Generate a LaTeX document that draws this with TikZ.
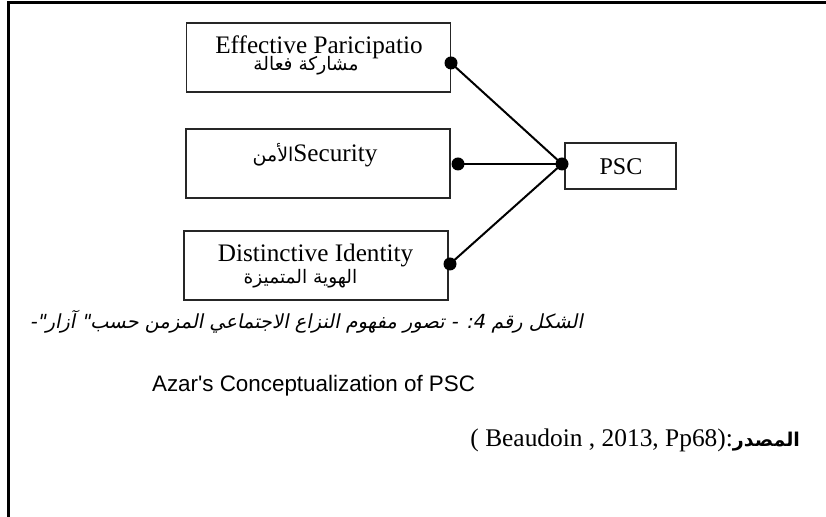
\documentclass[tikz,border=0pt]{standalone}
\usepackage{fontspec}
\setmainfont{Liberation Serif}
\newfontfamily\arabicfont[Script=Arabic]{DejaVu Sans}
\newfontfamily\arabicslant[Script=Arabic,FakeSlant=0.2]{DejaVu Sans}
\newfontfamily\arialfont{Liberation Sans}
\TeXXeTstate=1
\usetikzlibrary{positioning}
\tikzset{
  facbox/.style={draw=black!85,line width=0.7pt,rectangle,inner sep=0pt,
    minimum width=132pt,minimum height=34.5pt},
  dot/.style={circle,fill=black,inner sep=0pt,minimum size=6.5pt},
  link/.style={line width=1pt},
}

\begin{document}
\begin{tikzpicture}[x=0.5pt,y=-0.5pt]
        \useasboundingbox (0,0) rectangle (826,517);
        \draw [line width=1.5pt] (826,2.5) -- (8.5,2.5) -- (8.5,517);
        \node [facbox] (b1) at (318.5,57.5) {};
        \node [facbox] (b2) at (318,163.5) {};
        \node [facbox] (b3) at (316,265.5) {};
        \node [draw=black!85,line width=0.7pt,minimum width=55.5pt,minimum height=23pt,inner sep=0pt] (psc) at (620.5,166) {};
        \node [anchor=base,font=\fontsize{12.6}{14}\selectfont] (t1) at (319,54) {Effective Paricipatio};
        \node [anchor=base,font=\fontsize{9.3}{11}\selectfont\arabicfont] (a1) at (306,71) {\beginR مشاركة فعالة\endR};
        \node [anchor=base,font=\fontsize{12.6}{14}\selectfont] (t2) at (315,162) {{\arabicfont\fontsize{9.5}{11}\selectfont\beginR الأمن\endR}Security};
        \node [anchor=base,font=\fontsize{12.6}{14}\selectfont] (t3) at (315.5,262) {Distinctive Identity};
        \node [anchor=base,font=\fontsize{9.3}{11}\selectfont\arabicfont] (a3) at (300.5,284) {\beginR الهوية المتميزة\endR};
        \node [anchor=base,font=\fontsize{12}{14}\selectfont] (t4) at (621,175) {PSC};
        \node [dot] (d1) at (451,63) {};
        \node [dot] (d2) at (458,164) {};
        \node [dot] (d3) at (450,264) {};
        \node [dot] (hub) at (562,164) {};
        \draw [link] (d1.center)--(hub.center);
        \draw [link] (d2.center)--(hub.center);
        \draw [link] (d3.center)--(hub.center);
        \node [anchor=base east,font=\fontsize{9.7}{12}\selectfont\arabicslant] (cap) at (590,329) {\beginR الشكل رقم 4: - تصور مفهوم النزاع الاجتماعي المزمن حسب" آزار"-\endR};
        \node [anchor=base west,font=\fontsize{11.2}{13}\selectfont\arialfont] (title) at (145,392) {Azar's Conceptualization of PSC};
        \node [anchor=base east,font=\fontsize{12.7}{14}\selectfont] (src) at (807,447) {( Beaudoin , 2013, Pp68):{\arabicfont\bfseries\fontsize{9.5}{11}\selectfont\beginR المصدر\endR}};
      \end{tikzpicture}
\end{document}
